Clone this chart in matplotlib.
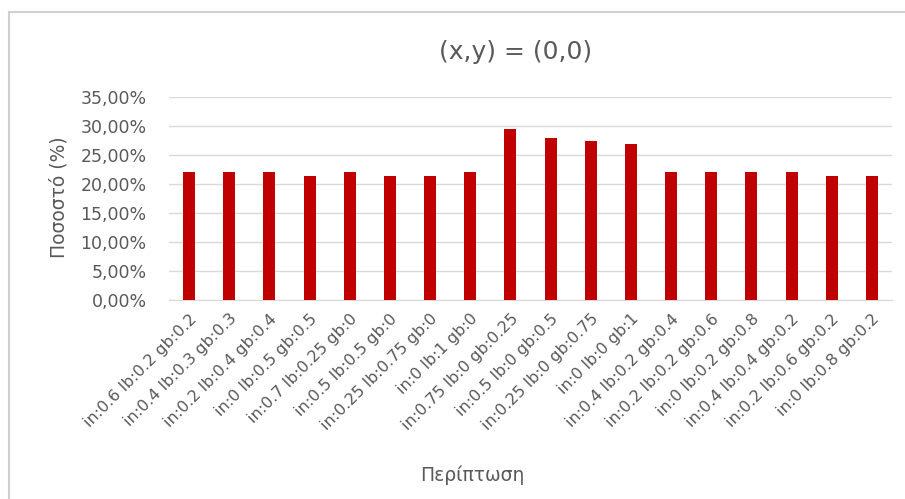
import matplotlib.pyplot as plt
from matplotlib.lines import Line2D
from matplotlib.ticker import FuncFormatter

# περιπτώσεις και ποσοστά
cases = ['in:0.6 lb:0.2 gb:0.2', 'in:0.4 lb:0.3 gb:0.3', 'in:0.2 lb:0.4 gb:0.4',
         'in:0 lb:0.5 gb:0.5', 'in:0.7 lb:0.25 gb:0', 'in:0.5 lb:0.5 gb:0',
         'in:0.25 lb:0.75 gb:0', 'in:0 lb:1 gb:0', 'in:0.75 lb:0 gb:0.25',
         'in:0.5 lb:0 gb:0.5', 'in:0.25 lb:0 gb:0.75', 'in:0 lb:0 gb:1',
         'in:0.4 lb:0.2 gb:0.4', 'in:0.2 lb:0.2 gb:0.6', 'in:0 lb:0.2 gb:0.8',
         'in:0.4 lb:0.4 gb:0.2', 'in:0.2 lb:0.6 gb:0.2', 'in:0 lb:0.8 gb:0.2']
percent = [22.0, 22.0, 22.0, 21.3, 22.0, 21.3, 21.3, 22.0, 29.4,
           27.9, 27.4, 26.9, 22.0, 22.0, 22.0, 22.0, 21.3, 21.3]
yticks = [0, 5, 10, 15, 20, 25, 30, 35]

grey = '#595959'

fig = plt.figure(figsize=(9.05, 4.99), dpi=100)
ax = fig.add_axes([0.1867, 0.3988, 0.7989, 0.4074])

x = range(len(cases))
ax.bar(x, percent, width=0.3, color='#C00000', zorder=3)

ax.set_xlim(-0.5, len(cases) - 0.5)
ax.set_ylim(0, 35)
ax.set_yticks(yticks)
ax.yaxis.set_major_formatter(FuncFormatter(lambda v, p: f'{v:.2f}%'.replace('.', ',')))
ax.grid(axis='y', color='#D9D9D9', linewidth=1, zorder=0)
for s in ['top', 'right', 'left']:
    ax.spines[s].set_visible(False)
ax.spines['bottom'].set_color('#D9D9D9')
ax.tick_params(axis='both', length=0, colors=grey)
ax.tick_params(axis='y', pad=16, labelsize=12.5)

ax.set_xticks(list(x))
ax.set_xticklabels(cases, rotation=45, ha='right', va='top', rotation_mode='anchor', fontsize=11.5)
ax.tick_params(axis='x', pad=8)

fig.text(0.570, 0.896, '(x,y) = (0,0)', ha='center', va='center', fontsize=18, color=grey)
fig.text(0.065, 0.605, 'Ποσοστό (%)', ha='center', va='center', rotation=90, fontsize=13.5, color=grey)
fig.text(0.522, 0.048, 'Περίπτωση', ha='center', va='center', fontsize=13.5, color=grey)

# πλαίσιο
fig.add_artist(Line2D([0.01, 0.01], [0, 0.976], transform=fig.transFigure, color='#D0D0D0', lw=1.5))
fig.add_artist(Line2D([0.01, 1], [0.976, 0.976], transform=fig.transFigure, color='#D0D0D0', lw=1.5))

fig.savefig('out.png', dpi=100)
